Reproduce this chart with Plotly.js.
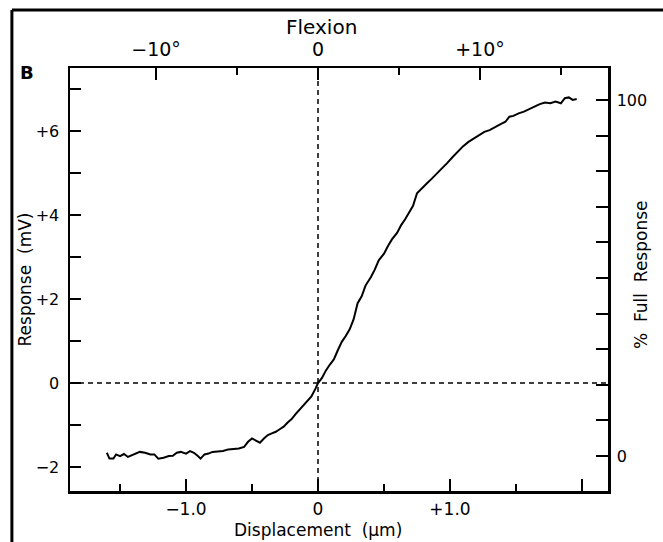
<!DOCTYPE html>
<html><head><meta charset="utf-8">
<script src="https://cdn.plot.ly/plotly-3.0.1.min.js"></script>
<style>html,body{margin:0;padding:0;background:#fff}</style>
</head><body>
<div id="chart" style="width:663px;height:542px"></div>
<script>
// Displacement (µm) and response (mV)
const displacement = [
 -1.60,-1.58,-1.55,-1.53,-1.50,-1.47,-1.44,-1.41,-1.38,-1.35,-1.31,-1.27,-1.24,-1.21,-1.17,-1.13,-1.10,-1.07,-1.04,-1.00,
 -0.97,-0.94,-0.91,-0.89,-0.86,-0.83,-0.80,-0.76,-0.72,-0.68,-0.64,-0.60,-0.56,-0.53,-0.50,-0.47,-0.44,-0.41,-0.38,-0.35,
 -0.32,-0.29,-0.26,-0.23,-0.20,-0.17,-0.14,-0.11,-0.08,-0.05,-0.02,0.00,0.03,0.06,0.09,0.12,0.15,0.18,0.21,0.24,
 0.27,0.30,0.33,0.36,0.40,0.43,0.46,0.50,0.53,0.56,0.60,0.63,0.66,0.69,0.72,0.75,0.78,0.82,0.86,0.90,
 0.94,0.98,1.02,1.06,1.10,1.14,1.18,1.22,1.26,1.30,1.34,1.38,1.42,1.45,1.48,1.52,1.56,1.60,1.64,1.68,
 1.72,1.76,1.80,1.84,1.87,1.90,1.93,1.96
];
const responseMv = [
 -1.66,-1.80,-1.80,-1.70,-1.74,-1.69,-1.76,-1.72,-1.68,-1.64,-1.66,-1.70,-1.70,-1.80,-1.78,-1.74,-1.73,-1.66,-1.64,-1.68,
 -1.62,-1.66,-1.74,-1.80,-1.70,-1.68,-1.64,-1.63,-1.62,-1.58,-1.57,-1.56,-1.52,-1.40,-1.32,-1.38,-1.42,-1.32,-1.24,-1.20,
 -1.16,-1.10,-1.04,-0.94,-0.86,-0.74,-0.64,-0.54,-0.44,-0.32,-0.14,0.00,0.12,0.30,0.44,0.56,0.78,0.98,1.12,1.28,
 1.52,1.90,2.06,2.32,2.52,2.70,2.92,3.08,3.26,3.42,3.58,3.76,3.90,4.06,4.22,4.52,4.62,4.74,4.86,4.98,
 5.12,5.24,5.38,5.52,5.64,5.74,5.82,5.90,5.98,6.02,6.10,6.16,6.22,6.34,6.36,6.42,6.46,6.52,6.58,6.64,
 6.68,6.66,6.70,6.66,6.78,6.80,6.74,6.76
];

// Tick values and labels
const dispTickVals = [-1, 0, 1, 2];
const dispTickText = ['\u22121.0', '0', '+1.0', ''];
const dispMinorVals = [-1.5, -0.5, 0.5, 1.5];
const mvTickVals = [-2, 0, 2, 4, 6];
const mvTickText = ['\u22122', '0', '+2', '+4', '+6'];
const mvMinorVals = [-1, 1, 3, 5, 7];
const flexTickVals = [-10, 0, 10];
const flexTickText = ['\u221210\u00b0', '0', '+10\u00b0'];
const flexMinorVals = [-5, 5, 15];
const pctTickVals = [0, 100];
const pctTickText = ['0', '100'];
const pctMinorVals = [10, 20, 30, 40, 50, 60, 70, 80, 90];

// Axis scaling
const xRange = [-1.879, 2.197];
const yRange = [-2.571, 7.5];
const degPerMicron = 8.15;
const mvAtZeroPct = -1.74, mvAtFullPct = 6.74;
const toPct = v => (v - mvAtZeroPct) / (mvAtFullPct - mvAtZeroPct) * 100;

const FONT = 'DejaVu Sans';
const tickFont = {family: FONT, size: 16, color: '#000'};
const titleFont = {family: FONT, size: 17, color: '#000'};
const axisCommon = {
  showline: true, linecolor: '#000', linewidth: 2.5,
  showgrid: false, zeroline: false, ticks: 'inside', tickcolor: '#000',
  tickwidth: 2, tickfont: tickFont, fixedrange: true
};

const traces = [
  {x: displacement, y: responseMv, type: 'scatter', mode: 'lines',
   line: {color: '#000', width: 2}, hoverinfo: 'skip', showlegend: false},
  {x: [], y: [], xaxis: 'x2', yaxis: 'y2', type: 'scatter', mode: 'lines',
   hoverinfo: 'skip', showlegend: false}
];

const layout = {
  width: 663, height: 542,
  margin: {l: 70, r: 55, t: 68, b: 51},
  paper_bgcolor: '#fff', plot_bgcolor: '#fff',
  showlegend: false,
  xaxis: Object.assign({}, axisCommon, {
    range: xRange, tickmode: 'array', tickvals: dispTickVals, ticktext: dispTickText,
    tickfont: {family: FONT, size: 17, color: '#000'},
    ticklen: 12, ticklabelstandoff: 1,
    minor: {tickmode: 'array', tickvals: dispMinorVals, ticks: 'inside', ticklen: 7, tickwidth: 2, tickcolor: '#000', showgrid: false}
  }),
  xaxis2: Object.assign({}, axisCommon, {
    overlaying: 'x', side: 'top', anchor: 'y',
    range: [xRange[0] * degPerMicron, xRange[1] * degPerMicron],
    tickmode: 'array', tickvals: flexTickVals, ticktext: flexTickText,
    tickfont: {family: FONT, size: 19, color: '#000'},
    ticklen: 12, ticklabelstandoff: 2,
    minor: {tickmode: 'array', tickvals: flexMinorVals, ticks: 'inside', ticklen: 7, tickwidth: 2, tickcolor: '#000', showgrid: false}
  }),
  yaxis: Object.assign({}, axisCommon, {
    range: yRange, tickmode: 'array', tickvals: mvTickVals, ticktext: mvTickText,
    ticklen: 11, ticklabelstandoff: 5,
    minor: {tickmode: 'array', tickvals: mvMinorVals, ticks: 'inside', ticklen: 11, tickwidth: 2, tickcolor: '#000', showgrid: false},
    title: {text: 'Response  (mV)', font: titleFont, standoff: 0}
  }),
  yaxis2: Object.assign({}, axisCommon, {
    overlaying: 'y', side: 'right', anchor: 'x',
    range: [toPct(yRange[0]), toPct(yRange[1])],
    tickmode: 'array', tickvals: pctTickVals, ticktext: pctTickText,
    ticklen: 12, ticklabelstandoff: 3,
    minor: {tickmode: 'array', tickvals: pctMinorVals, ticks: 'inside', ticklen: 12, tickwidth: 2, tickcolor: '#000', showgrid: false}
  }),
  shapes: [
    {type: 'line', xref: 'x', yref: 'paper', x0: 0, x1: 0, y0: 0, y1: 1,
     line: {color: '#000', width: 1.5, dash: '5px,4px'}},
    {type: 'line', xref: 'paper', yref: 'y', x0: 0, x1: 1, y0: 0, y1: 0,
     line: {color: '#000', width: 1.5, dash: '5px,4px'}},
    {type: 'line', xref: 'paper', yref: 'paper', x0: -0.108, x1: 1.105, y0: 1.137, y1: 1.137,
     line: {color: '#000', width: 3}},
    {type: 'line', xref: 'paper', yref: 'paper', x0: -0.108, x1: -0.108, y0: 1.137, y1: -0.125,
     line: {color: '#000', width: 3}}
  ],
  annotations: [
    {text: 'B', xref: 'paper', yref: 'paper', x: -0.080, y: 0.9905,
     xanchor: 'center', yanchor: 'middle', showarrow: false,
     font: {family: FONT, size: 18, color: '#000', weight: 'bold'}},
    {text: 'Flexion', xref: 'x', yref: 'paper', x: 0.03, y: 1.098,
     xanchor: 'center', yanchor: 'middle', showarrow: false,
     font: {family: FONT, size: 20, color: '#000'}},
    {text: 'Displacement  (\u00b5m)', xref: 'x', yref: 'paper', x: 0, y: -0.093,
     xanchor: 'center', yanchor: 'middle', showarrow: false,
     font: {family: FONT, size: 17, color: '#000'}},
    {text: '%  Full  Response', xref: 'paper', yref: 'paper', x: 1.0613, y: 0.5106,
     xanchor: 'center', yanchor: 'middle', textangle: -90, showarrow: false,
     font: titleFont}
  ]
};

Plotly.newPlot('chart', traces, layout, {staticPlot: true, displayModeBar: false});
</script>
</body></html>
